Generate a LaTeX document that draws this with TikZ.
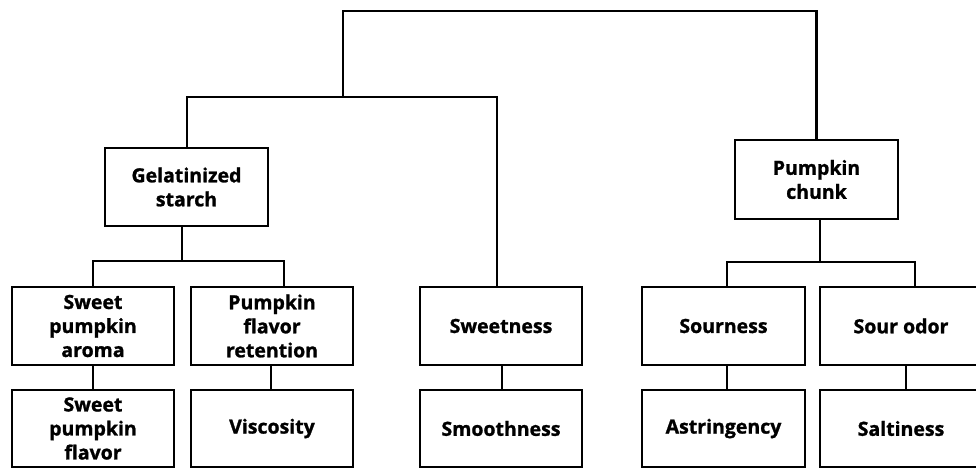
\documentclass[tikz,border=0pt]{standalone}
\usepackage{fontspec}
\setmainfont{Open Sans}[BoldFeatures={FakeBold=1.2}]
\begin{document}
\begin{tikzpicture}[x=1pt,y=-1pt,
  box/.style={draw=black, line width=2.6pt, rectangle, minimum width=162pt, minimum height=78pt,
    align=center, inner sep=0pt, font=\fontsize{19.5}{24}\selectfont\bfseries},
  conn/.style={draw=black, line width=2.8pt, line cap=rect}]
\clip (0,0) rectangle (976,468);
\node[box, minimum width=163pt] (g) at (186.5,187) {Gelatinized\\starch};
\node[box, minimum width=163pt, minimum height=79pt] (pc) at (816.5,179.5) {Pumpkin\\chunk};
\node[box] (a) at (93,326) {Sweet\\pumpkin\\aroma};
\node[box] (r) at (272,326) {Pumpkin\\flavor\\retention};
\node[box] (sw) at (501,326) {Sweetness};
\node[box, minimum width=163pt] (so) at (723.5,326) {Sourness};
\node[box] (od) at (901,326) {Sour odor};
\node[box, minimum height=77pt] (f) at (93,428.5) {Sweet\\pumpkin\\flavor};
\node[box, minimum height=77pt] (v) at (272,428.5) {Viscosity};
\node[box, minimum height=77pt] (sm) at (501,428.5) {Smoothness};
\node[box, minimum width=163pt, minimum height=77pt] (as) at (723.5,428.5) {Astringency};
\node[box, minimum height=77pt] (sa) at (901,428.5) {Saltiness};
\coordinate (j1) at (343,97);
\draw[conn] (j1) -- (343,11) -| (pc.north);
\draw[conn] ([xshift=0.5pt]g.north) |- (j1) -| ([xshift=-4pt]sw.north);
\coordinate (j2) at (182,261);
\draw[conn] ([xshift=-4.5pt]g.south) -- (j2);
\draw[conn] (a.north) |- (j2) -| ([xshift=12pt]r.north);
\draw[conn] (a.south) -- (f.north);
\draw[conn] ([xshift=-1pt]r.south) -- ([xshift=-1pt]v.north);
\draw[conn] ([xshift=1pt]sw.south) -- ([xshift=1pt]sm.north);
\coordinate (j3) at (820,262);
\draw[conn] ([xshift=3.5pt]pc.south) -- (j3);
\draw[conn] ([xshift=3.5pt]so.north) |- (j3) -| ([xshift=14pt]od.north);
\draw[conn] ([xshift=3.5pt]so.south) -- ([xshift=3.5pt]as.north);
\draw[conn] ([xshift=5pt]od.south) -- ([xshift=5pt]sa.north);
\end{tikzpicture}
\end{document}
